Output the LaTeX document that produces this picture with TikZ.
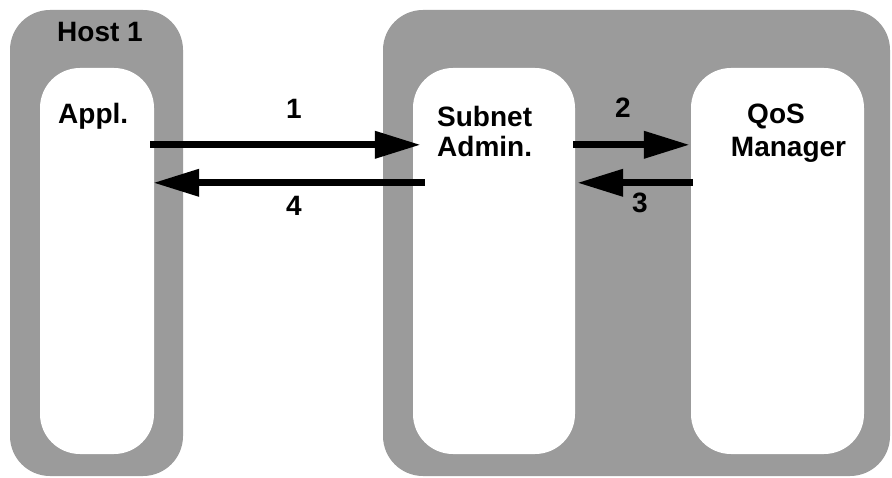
\documentclass[tikz,border=0pt]{standalone}
\usepackage{fontspec}
\setmainfont{Liberation Sans}
\usetikzlibrary{arrows.meta}
\definecolor{boxgray}{RGB}{155,155,155}
\begin{document}
\begin{tikzpicture}[x=1pt,y=-1pt,
  graybox/.style={rectangle, fill=boxgray, rounded corners=40pt, inner sep=0pt},
  whitebox/.style={rectangle, fill=white, rounded corners=40pt, inner sep=0pt},
  lbl/.style={font=\fontsize{28}{32}\selectfont\bfseries, inner sep=0pt, anchor=base},
  arr/.style={line width=7pt, -{Triangle[length=46pt,width=26pt]}},
]
\useasboundingbox[fill=white] (0,0) rectangle (892,478);
\node[graybox, minimum width=173pt, minimum height=466pt] (host) at (96.5,243) {};
\node[graybox, minimum width=507pt, minimum height=466pt] (fabric) at (636.5,243) {};
\node[whitebox, minimum width=114pt, minimum height=386pt] (appl) at (97,261) {};
\node[whitebox, minimum width=162pt, minimum height=386pt] (subnet) at (494,261) {};
\node[whitebox, minimum width=173pt, minimum height=386pt] (qos) at (777.5,261) {};

\node[lbl] (hostlbl) at (100,42) {Host 1};
\node[lbl, anchor=base west] (appllbl) at (58,124) {Appl.};
\node[lbl, anchor=base west, align=left] (sublbl) at (437,127) {Subnet};
\node[lbl, anchor=base west] (admlbl) at (437,157) {Admin.};
\node[lbl] (qoslbl) at (776,124) {QoS};
\node[lbl] (mgrlbl) at (788.5,157) {Manager};

\draw[arr] ([xshift=-4pt,yshift=-77pt]appl.north east) -- ([xshift=8pt,yshift=-77pt]subnet.north west);
\draw[arr] ([xshift=12pt,yshift=-115pt]subnet.north west) -- ([xshift=-1pt,yshift=-115pt]appl.north east);
\draw[arr] ([xshift=-2pt,yshift=-77pt]subnet.north east) -- ([xshift=-1pt,yshift=-77pt]qos.north west);
\draw[arr] ([xshift=2pt,yshift=-115pt]qos.north west) -- ([xshift=2pt,yshift=-115pt]subnet.north east);

\node[lbl] (n1) at (294,119) {1};
\node[lbl] (n4) at (294,216) {4};
\node[lbl] (n2) at (623,118) {2};
\node[lbl] (n3) at (640,213) {3};
\end{tikzpicture}
\end{document}
